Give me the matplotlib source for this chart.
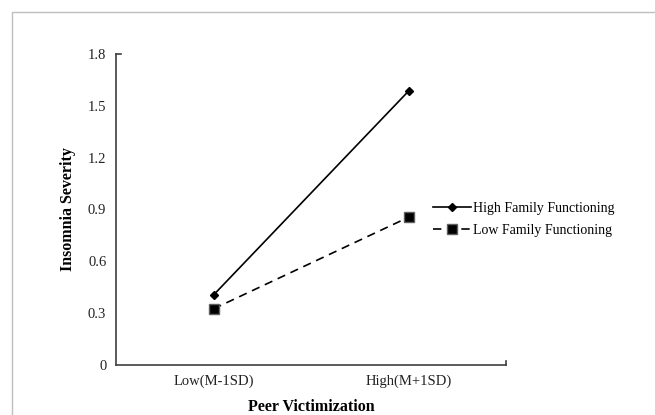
import matplotlib.pyplot as plt
from matplotlib.patches import Rectangle

# data
categories = ['Low(M-1SD)', 'High(M+1SD)']
high_family = [0.405, 1.585]
low_family = [0.325, 0.855]
y_ticks = [0, 0.3, 0.6, 0.9, 1.2, 1.5, 1.8]
y_tick_labels = ['0', '0.3', '0.6', '0.9', '1.2', '1.5', '1.8']

plt.rcParams['font.family'] = ['Liberation Serif', 'DejaVu Serif']

fig = plt.figure(figsize=(6.55, 4.15), dpi=100)

# light grey chart-area frame (runs off the right and bottom edges)
fig.patches.append(Rectangle((12 / 655, -0.1), 1.0, 1 - 12 / 415 + 0.1,
                             transform=fig.transFigure, fill=False,
                             edgecolor='#bfbfbf', linewidth=1.0))

ax = fig.add_axes([116 / 655, 50 / 415, 390 / 655, 311 / 415])

x = list(range(len(categories)))
ax.plot(x, high_family, color='black', linewidth=1.2, marker='D',
        markersize=4.5, label='High Family Functioning')
ax.plot(x, low_family, color='black', linewidth=1.2, linestyle=(0, (5, 3.5)),
        marker='s', markersize=6.5, markeredgecolor='#606060',
        label='Low Family Functioning')

ax.set_xlim(-0.5, 1.5)
ax.set_ylim(0, 1.8)
ax.set_xticks(x)
ax.set_xticklabels(categories)
ax.set_yticks(y_ticks)
ax.set_yticklabels(y_tick_labels)
ax.tick_params(axis='both', length=0, labelsize=10.5, colors='#222222')
ax.tick_params(axis='y', pad=7)
ax.tick_params(axis='x', pad=7)

# little end caps like the original excel axes
ax.plot([0, 0.012], [1, 1], transform=ax.transAxes, color='#404040',
        linewidth=1.2, clip_on=False)
ax.plot([1, 1], [0, 0.012], transform=ax.transAxes, color='#404040',
        linewidth=1.2, clip_on=False)

for side in ['top', 'right']:
    ax.spines[side].set_visible(False)
for side in ['left', 'bottom']:
    ax.spines[side].set_color('#404040')
    ax.spines[side].set_linewidth(1.2)

ax.set_ylabel('Insomnia Severity', fontsize=11.5, fontweight='bold')
ax.set_xlabel('Peer Victimization', fontsize=11.5, fontweight='bold')
ax.yaxis.set_label_coords(-0.103, 0.5)
ax.xaxis.set_label_coords(0.5, -0.108)

fig.legend(loc='upper left', bbox_to_anchor=(433 / 655, 1 - 202 / 415),
           frameon=False, fontsize=10, handlelength=2.7, handletextpad=0.2,
           labelspacing=0.65, borderpad=0, borderaxespad=0)

fig.savefig('out.png', dpi=100)
